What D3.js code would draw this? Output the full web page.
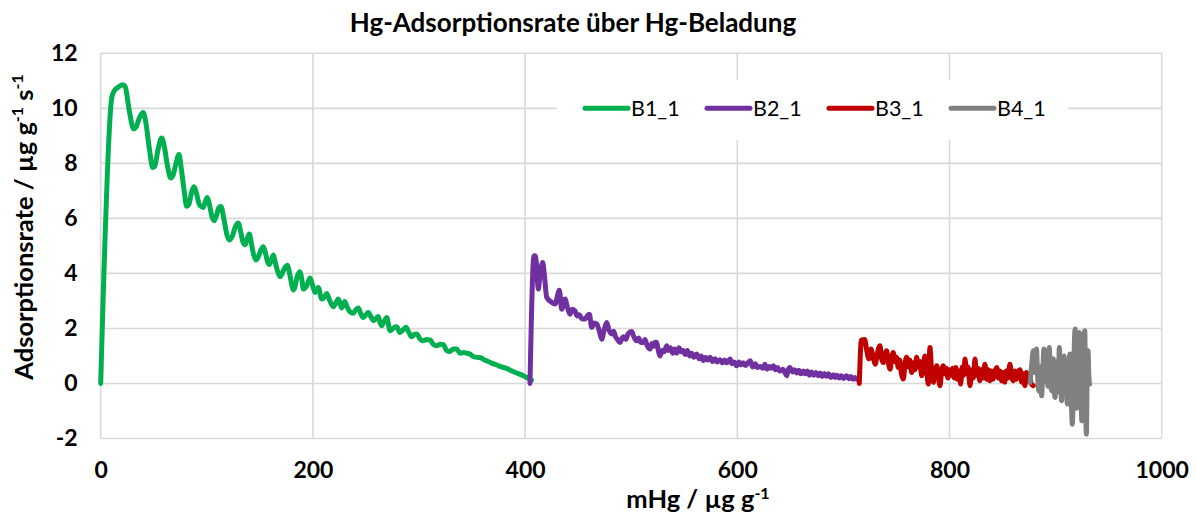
<!DOCTYPE html>
<html><head><meta charset="utf-8">
<script src="https://cdn.jsdelivr.net/npm/d3@7"></script>
<style>
html,body{margin:0;padding:0;background:#fff;}
svg{display:block;font-family:Lato,"Open Sans",sans-serif;}
</style></head>
<body>
<svg id="chart" width="1196" height="516"></svg>
<script>
const title = "Hg-Adsorptionsrate über Hg-Beladung";
const seriesNames = ["B1_1","B2_1","B3_1","B4_1"];
const seriesColors = ["#00B050","#7030A0","#C00000","#808080"];
const xTicks = [0,200,400,600,800,1000];
const yTicks = [-2,0,2,4,6,8,10,12];

const b1X = [0,10.5,13,17,21,23,27,31,33,37,40,42,46,49,51,54,57.5,60,63,66,68,71,73.8,76,79,81,83,86,88,90,93,96.7,98.5,100.5,102.5,105,107,109,111.5,113.4,116,119,121.2,124,127,129.7,132,134,136,138,140,142,144,146.4,148.5,151,153.3,155.5,157.5,159,161,162.7,164.5,167,169,171,173.5,175.9,178,180,181.5,183,185,187.5,189.5,191,194,197.3,199.5,202,205,208.3,211,213,216,219.2,222,224,227,230,232,235,238,240.5,242.8,245,247.5,250,252.2,255,257,259.5,261.6,263,264.8,267,269.6,272.7,276,279,282,285,287.8,290.5,293,295.5,297.8,301,304,307,310.4,313.5,316.7,320,323,326,329,332.3,335.5,338.6,342,345,348,351,355,359,362,365.3,369,373,377,382.7,387,392,396,401.5,406];
const b1Y = [0,10.4,10.65,10.78,10.86,10.8,9.9,9.25,9.3,9.7,9.85,9.6,8.5,7.85,7.9,8.5,8.92,8.6,7.9,7.47,7.55,8.0,8.32,7.8,6.9,6.44,6.5,7.0,7.15,6.95,6.5,6.4,6.6,6.76,6.5,6.05,5.92,6.1,6.4,6.43,6.0,5.4,5.21,5.35,5.7,5.83,5.5,5.15,5.04,5.25,5.43,5.1,4.7,4.49,4.6,4.85,4.97,4.7,4.4,4.32,4.5,4.67,4.4,4.05,3.88,4.0,4.2,4.30,4.0,3.6,3.4,3.5,3.85,4.06,3.8,3.43,3.55,3.83,3.6,3.31,3.49,3.07,3.15,3.27,3.0,2.79,2.95,3.07,2.74,2.98,2.8,2.6,2.55,2.68,2.74,2.55,2.4,2.5,2.58,2.4,2.28,2.36,2.43,2.25,2.1,2.25,2.4,1.92,2.02,2.06,1.85,1.95,2.04,1.85,1.7,1.78,1.8,1.62,1.55,1.6,1.58,1.42,1.37,1.43,1.41,1.2,1.16,1.25,1.25,1.1,1.13,1.1,1.07,0.98,0.95,0.92,0.85,0.8,0.73,0.68,0.61,0.55,0.46,0.38,0.32,0.22,0.12,0.0];

const b2X = [404.6,408.4,409.6,411,412.4,414,416.6,418,420.4,425,428.2,432.3,434.5,437.6,440,442.3,444.5,447,449,451,453.5,456.4,458.5,460.5,462.8,465,467.5,470,472.2,474.5,476.9,479,481.6,483.5,485,487,489.4,491.5,493,495,497,500.5,502.5,505.2,507,509,511.4,513,515,517.7,519.5,521,522.5,524,525.5,527.2,529,531,533.5,535,537,539,541,543,545,547,549,551,553,555,557,559,561.7,564,566,568,570,572,574.3,576.5,579,581,583.7,586,588,590,593.2,595,597,599.4,601.5,603.5,605.5,607.5,610,612.2,614.5,617,619,621.6,624,626,628,630,632,634,636,638,640,643,644.8,646.6,648,649.6,652,654,656,658,660,662.2,664,666,668,670,672,674,676,678,680,682,684,686,688,690.5,692,694,696,698,700,703,705,707,709,711,712.5];
const b2Y = [0,4.64,4.64,4.2,3.43,3.9,4.4,4.0,3.13,2.95,2.89,3.39,2.7,3.07,2.75,2.52,2.7,2.64,2.45,2.5,2.35,2.34,2.45,2.52,2.04,2.2,2.16,1.9,1.61,1.95,2.22,1.95,1.8,1.9,1.72,1.6,1.49,1.65,1.7,1.6,1.8,1.89,1.7,1.55,1.65,1.5,1.49,1.6,1.38,1.25,1.45,1.35,1.5,1.49,1.2,1.0,1.2,1.15,1.37,1.2,1.3,1.1,1.25,1.1,1.3,1.15,1.2,1.05,1.2,1.0,1.1,0.95,1.07,0.9,1.0,0.83,0.95,0.85,0.95,0.8,0.9,0.78,0.86,0.75,0.85,0.75,0.89,0.72,0.78,0.64,0.78,0.68,0.75,0.65,0.75,0.83,0.6,0.72,0.58,0.62,0.55,0.7,0.52,0.62,0.55,0.64,0.5,0.58,0.45,0.52,0.4,0.28,0.5,0.58,0.42,0.5,0.38,0.48,0.35,0.45,0.35,0.45,0.3,0.42,0.3,0.4,0.28,0.38,0.25,0.36,0.26,0.35,0.22,0.32,0.22,0.3,0.2,0.28,0.18,0.28,0.17,0.25,0.15,0.22,0.16];

const b3X = [715,717,720,722,724,726,728,730,732,734.5,736,737.6,739,740.8,742,744,745.5,747,748.5,750,751.7,753,754.5,756.5,758,759.6,761,762.5,764.4,766,767.5,769,770.5,772,773.8,775.5,776.9,778.5,780,781.6,783,784.8,786.5,788,789.5,791,792.5,794,795.5,797,798.5,800,801.5,803,804.5,806,807.5,809,810.5,812,813.5,814.6,816,817.5,819.3,821,822.5,824,825.5,827,828.5,830,831.5,833.4,835,836.5,838,839.5,841,842.5,844.5,846,847.5,849,850.5,852,853.5,855,857,858.5,860,861.5,863,864.5,866.5,868,869.5,871,872.5,874,875.5,877,879];
const b3Y = [0,1.58,1.6,1.2,0.9,1.25,0.95,0.7,1.1,1.37,0.9,0.76,1.05,1.19,0.85,0.52,0.9,1.13,0.8,0.95,0.58,0.85,0.4,0.16,0.7,0.95,0.6,0.85,0.4,0.75,0.5,0.95,0.6,0.8,0.28,0.7,1.0,0.5,-0.02,1.31,0.5,0.04,0.5,0.64,0.3,-0.08,0.4,0.64,0.35,0.55,0.2,0.5,0.3,0.55,0.2,0.58,0.15,0.45,-0.02,0.6,0.3,0.89,0.35,0.6,-0.08,0.5,0.2,0.89,0.3,0.55,0.1,0.5,0.2,0.7,0.15,0.5,0.1,0.45,0.15,0.4,0.58,0.2,0.45,0.1,0.4,0.05,0.45,0.2,0.7,0.25,0.1,0.45,0.15,0.4,0.5,0.05,0.35,-0.08,0.4,0.1,0.35,0.0,-0.08];

const b4X = [876,877.5,879,880.5,882,883,884.3,885.5,886.8,888,889,890.3,891.5,892.8,894,895.2,896.3,897.8,898.7,899.5,900.5,901.5,902.5,903.5,904.6,905.7,906.8,908,909,910,911,912.3,913.6,914.7,915.8,917,918.4,919.2,920,920.8,921.6,922.5,923.2,924,924.7,925.5,926.3,927.5,928.3,929,929.8,930.6,931.3,932];
const b4Y = [0.04,0.7,1.19,0.4,1.25,0.3,-0.27,0.6,-0.45,0.5,1.25,0.1,0.8,-0.1,1.31,0.2,-0.27,0.9,-0.2,-0.51,0.6,0.8,-0.3,1.31,0.2,-0.63,0.8,1.0,-0.2,0.6,-0.75,0.5,1.07,-0.5,-1.48,0.5,1.98,-0.4,-0.9,1.2,1.5,1.85,-0.3,-0.6,-1.36,0.5,1.5,1.92,-0.8,-1.84,0.4,1.19,0.3,-0.02];

const seriesX = [b1X,b2X,b3X,b4X];
const seriesY = [b1Y,b2Y,b3Y,b4Y];

const svg = d3.select("#chart");
const x = d3.scaleLinear().domain([0,1000]).range([100.7,1161.7]);
const y = d3.scaleLinear().domain([-2,12]).range([438.5,53.3]);
const grid = "#d9d9d9";

// gridlines
svg.append("g").selectAll("line").data(yTicks).join("line")
  .attr("x1",x(0)).attr("x2",x(1000)).attr("y1",d=>y(d)).attr("y2",d=>y(d))
  .attr("stroke",grid).attr("stroke-width",1.6);
svg.append("g").selectAll("line").data(xTicks).join("line")
  .attr("y1",y(-2)).attr("y2",y(12)).attr("x1",d=>x(d)).attr("x2",d=>x(d))
  .attr("stroke",grid).attr("stroke-width",1.6);

// axes labels via d3 axes
const xAxis = svg.append("g").attr("transform",`translate(0,${y(-2)})`)
  .call(d3.axisBottom(x).tickValues(xTicks).tickSize(0).tickPadding(23).tickFormat(d3.format("d")));
const yAxis = svg.append("g").attr("transform",`translate(${x(0)},0)`)
  .call(d3.axisLeft(y).tickValues(yTicks).tickSize(0).tickPadding(23).tickFormat(d=>d<0?"-"+Math.abs(d):d));
[xAxis,yAxis].forEach(a=>{
  a.select(".domain").remove();
  a.selectAll("text").attr("font-family","Lato,sans-serif").attr("font-weight","bold")
    .attr("font-size",23).attr("fill","#000");
});

// series
const line = d3.line().curve(d3.curveMonotoneX);
seriesX.forEach((xs,i)=>{
  const pts = xs.map((v,j)=>[x(v),y(seriesY[i][j])]);
  svg.append("path").attr("d",line(pts)).attr("fill","none")
    .attr("stroke",seriesColors[i]).attr("stroke-width",5)
    .attr("stroke-linejoin","round").attr("stroke-linecap","round");
});

// legend
svg.append("rect").attr("x",557).attr("y",80).attr("width",511).attr("height",60).attr("fill","#fff");
const legX = [585,707,829,951];
seriesNames.forEach((n,i)=>{
  svg.append("line").attr("x1",legX[i]).attr("x2",legX[i]+43).attr("y1",y(10)).attr("y2",y(10))
    .attr("stroke",seriesColors[i]).attr("stroke-width",5).attr("stroke-linecap","round");
  svg.append("text").attr("x",legX[i]+46).attr("y",y(10)+8).attr("font-size",21.5)
    .attr("font-family","Lato,sans-serif").attr("fill","#000").text(n);
});

// title
svg.append("text").attr("x",573).attr("y",32).attr("text-anchor","middle")
  .attr("font-size",26).attr("font-weight","bold").attr("fill","#000").text(title);

// x title
const xt = svg.append("text").attr("x",698).attr("y",508).attr("text-anchor","middle")
  .attr("font-size",25.5).attr("font-weight","bold").attr("fill","#000");
xt.append("tspan").text("mHg / µg g");
xt.append("tspan").attr("dy",-9).attr("font-size",16).text("-1");

// y title
const yt = svg.append("text").attr("transform","translate(33,227) rotate(-90)").attr("text-anchor","middle")
  .attr("font-size",25.5).attr("font-weight","bold").attr("fill","#000");
yt.append("tspan").text("Adsorptionsrate / µg g");
yt.append("tspan").attr("dy",-10).attr("font-size",16).text("-1");
yt.append("tspan").attr("dy",10).text(" s");
yt.append("tspan").attr("dy",-10).attr("font-size",16).text("-1");
</script>
</body></html>
